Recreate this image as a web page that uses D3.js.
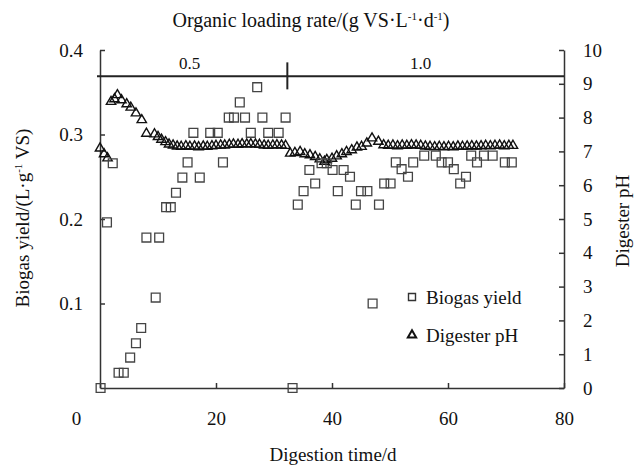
<!DOCTYPE html>
<html>
<head>
<meta charset="utf-8">
<script src="https://cdn.jsdelivr.net/npm/d3@7"></script>
<style>
  body { margin: 0; background: #fff; }
  svg text { font-family: "Liberation Serif", "Times New Roman", serif; fill: #111; }
</style>
</head>
<body>
<div id="chart"></div>
<script>
// biogas yield, L/g VS
const yieldDays = [0.1, 1.2, 2.2, 3.2, 4.1, 5.2, 6.2, 7.1, 8.0, 9.6, 10.2, 11.4, 12.2, 13.1, 14.2, 15.1, 16.1, 17.2,
  19.0, 20.3, 21.2, 22.2, 23.1, 24.1, 25.0, 26.0, 27.1, 28.0, 29.0, 30.8, 32.0, 33.2, 34.1, 35.1, 36.1, 37.1,
  38.2, 39.1, 40.1, 41.0, 42.0, 43.1, 44.1, 45.0, 46.1, 47.0, 48.1, 49.0, 50.1, 51.0, 52.0, 53.1, 54.0, 55.9,
  57.9, 58.9, 60.0, 61.0, 62.1, 63.1, 64.0, 65.0, 66.2, 67.7, 69.8, 71.0];
const yieldValues = [0, 0.196, 0.266, 0.018, 0.018, 0.036, 0.053, 0.071, 0.178, 0.107, 0.178, 0.214, 0.214, 0.231, 0.249, 0.267, 0.302, 0.249,
  0.302, 0.302, 0.267, 0.32, 0.32, 0.338, 0.32, 0.302, 0.356, 0.32, 0.302, 0.302, 0.32, 0, 0.217, 0.233, 0.258, 0.242,
  0.266, 0.266, 0.258, 0.233, 0.258, 0.25, 0.217, 0.233, 0.233, 0.1, 0.217, 0.242, 0.242, 0.267, 0.259, 0.25, 0.267, 0.275,
  0.275, 0.267, 0.267, 0.259, 0.242, 0.25, 0.275, 0.267, 0.275, 0.275, 0.267, 0.267];

// digester pH
const phDays = [0.0, 0.7, 1.3, 1.9, 2.5, 3.0, 3.7, 4.6, 5.3, 6.2, 7.2, 8.0, 9.4, 10.0, 10.6, 11.3, 11.9, 12.6,
  13.3, 14.0, 14.8, 15.5, 16.3, 17.0, 17.8, 18.5, 19.3, 20.0, 20.8, 21.5, 22.3, 23.0, 23.8, 24.5, 25.3, 26.0,
  26.8, 27.5, 28.3, 29.0, 29.8, 30.5, 31.3, 32.0,
  32.8, 33.6, 34.5, 35.3, 36.2, 37.1, 37.9, 38.7, 39.1, 40.0, 40.8, 41.7, 42.5, 43.4, 44.3, 45.1, 46.0, 46.9, 48.0, 48.9,
  49.7, 50.5, 51.3, 52.1, 52.9, 53.7, 54.5, 55.3, 56.1, 56.9, 57.7, 58.5, 59.3, 60.1, 60.9, 61.7, 62.5, 63.3,
  64.1, 64.9, 65.7, 66.5, 67.3, 68.1, 68.9, 69.7, 70.5, 71.2];
const phValues = [7.09, 6.92, 6.80, 8.47, 8.55, 8.67, 8.52, 8.40, 8.30, 8.13, 7.93, 7.53, 7.51, 7.43, 7.35, 7.28, 7.21, 7.18,
  7.15, 7.14, 7.16, 7.14, 7.15, 7.13, 7.15, 7.14, 7.16, 7.17, 7.18, 7.18, 7.20, 7.21, 7.20, 7.22, 7.21, 7.22,
  7.21, 7.20, 7.18, 7.17, 7.18, 7.19, 7.18, 7.17,
  6.94, 6.96, 6.99, 6.92, 6.89, 6.84, 6.77, 6.70, 6.75, 6.79, 6.86, 6.92, 6.99, 7.04, 7.12, 7.14, 7.24, 7.39, 7.29, 7.19,
  7.17, 7.18, 7.16, 7.18, 7.17, 7.19, 7.18, 7.17, 7.15, 7.14, 7.13, 7.14, 7.13, 7.14, 7.13, 7.15, 7.14, 7.15,
  7.16, 7.15, 7.16, 7.17, 7.16, 7.17, 7.18, 7.16, 7.17, 7.17];

// loading rate phases on the top strip
const phaseLabels = ["0.5", "1.0"];
const phaseStart = [0, 32.3];
const phaseEnd = [32.3, 80];

const xTicks = [0, 20, 40, 60, 80];
const yLeftTicks = [0.1, 0.2, 0.3, 0.4];
const yRightTicks = [0, 1, 2, 3, 4, 5, 6, 7, 8, 9, 10];
const stripPh = 9.22; // level of the horizontal strip line, right-axis units

const W = 642, H = 468;
const margin = { top: 50, right: 78, bottom: 80, left: 100 };

const svg = d3.select("#chart").append("svg")
    .attr("width", W)
    .attr("height", H);

const x = d3.scaleLinear().domain([0, 80]).range([margin.left, W - margin.right]);
const yL = d3.scaleLinear().domain([0, 0.4]).range([H - margin.bottom, margin.top]);
const yR = d3.scaleLinear().domain([0, 10]).range([H - margin.bottom, margin.top]);

const axisColor = "#333";
const fs = 19;

function styleAxis(g) {
    g.selectAll("path, line").attr("stroke", axisColor).attr("stroke-width", 1.5);
    g.selectAll("text").attr("font-size", fs).attr("fill", "#111");
}

// x axis, ticks pointing inward
const gx = svg.append("g")
    .attr("transform", "translate(0," + yL(0) + ")")
    .call(d3.axisBottom(x).tickValues(xTicks).tickSize(-5).tickSizeOuter(0).tickPadding(24))
    .call(styleAxis);
// the 0 label sits left of the corner
gx.selectAll(".tick text").filter(d => d === 0).attr("dx", -24);

// left axis
svg.append("g")
    .attr("transform", "translate(" + x(0) + ",0)")
    .call(d3.axisLeft(yL).tickValues(yLeftTicks).tickFormat(d3.format(".1f")).tickSize(-5).tickSizeOuter(0).tickPadding(17))
    .call(styleAxis);

// right axis
svg.append("g")
    .attr("transform", "translate(" + x(80) + ",0)")
    .call(d3.axisRight(yR).tickValues(yRightTicks).tickSize(-5).tickSizeOuter(0).tickPadding(19))
    .call(styleAxis);

// top strip with loading rate
svg.append("line")
    .attr("x1", x(0) - 3).attr("x2", x(80))
    .attr("y1", yR(stripPh)).attr("y2", yR(stripPh))
    .attr("stroke", "#222").attr("stroke-width", 2);

svg.append("line")
    .attr("x1", x(phaseEnd[0])).attr("x2", x(phaseEnd[0]))
    .attr("y1", yR(stripPh) - 14).attr("y2", yR(stripPh) + 13)
    .attr("stroke", "#222").attr("stroke-width", 2);

svg.selectAll(".phase")
    .data(phaseLabels)
    .enter()
    .append("text")
    .attr("class", "phase")
    .attr("x", (d, i) => (x(phaseStart[i]) + x(phaseEnd[i])) / 2 + (i === 0 ? -4 : -5))
    .attr("y", yR(stripPh) - 7)
    .attr("text-anchor", "middle")
    .attr("font-size", 17)
    .text(d => d);

// markers
const sq = d3.symbol().type(d3.symbolSquare).size(78);
const tri = d3.symbol().type(d3.symbolTriangle).size(38);

const yieldData = yieldDays.map((d, i) => ({ day: d, v: yieldValues[i] }));
const phData = phDays.map((d, i) => ({ day: d, v: phValues[i] }));

svg.selectAll(".ph")
    .data(phData)
    .enter()
    .append("path")
    .attr("class", "ph")
    .attr("d", tri)
    .attr("transform", d => "translate(" + x(d.day) + "," + yR(d.v) + ")")
    .attr("fill", "none")
    .attr("stroke", "#111")
    .attr("stroke-width", 1.4);

svg.selectAll(".yield")
    .data(yieldData)
    .enter()
    .append("path")
    .attr("class", "yield")
    .attr("d", sq)
    .attr("transform", d => "translate(" + x(d.day) + "," + yL(d.v) + ")")
    .attr("fill", "none")
    .attr("stroke", "#444")
    .attr("stroke-width", 1.3);

// legend
const legend = svg.append("g");
legend.append("path")
    .attr("d", d3.symbol().type(d3.symbolSquare).size(49))
    .attr("transform", "translate(412,297)")
    .attr("fill", "none").attr("stroke", "#333").attr("stroke-width", 1.4);
legend.append("text")
    .attr("x", 426).attr("y", 297).attr("dy", "0.35em")
    .attr("font-size", fs)
    .text("Biogas yield");
legend.append("path")
    .attr("d", d3.symbol().type(d3.symbolTriangle).size(30))
    .attr("transform", "translate(412,335)")
    .attr("fill", "none").attr("stroke", "#111").attr("stroke-width", 2);
legend.append("text")
    .attr("x", 426).attr("y", 335).attr("dy", "0.35em")
    .attr("font-size", fs)
    .text("Digester pH");

// titles
const topTitle = svg.append("text")
    .attr("x", 311).attr("y", 27)
    .attr("text-anchor", "middle")
    .attr("font-size", 20);
topTitle.append("tspan").text("Organic loading rate/(g VS·L");
topTitle.append("tspan").attr("dy", -7).attr("font-size", 11).text("-1");
topTitle.append("tspan").attr("dy", 7).text("·d");
topTitle.append("tspan").attr("dy", -7).attr("font-size", 11).text("-1");
topTitle.append("tspan").attr("dy", 7).text(")");

svg.append("text")
    .attr("x", 333).attr("y", 461)
    .attr("text-anchor", "middle")
    .attr("font-size", fs)
    .text("Digestion time/d");

const leftTitle = svg.append("text")
    .attr("transform", "translate(29,218) rotate(-90)")
    .attr("text-anchor", "middle")
    .attr("font-size", fs);
leftTitle.append("tspan").text("Biogas yield/(L·g");
leftTitle.append("tspan").attr("dy", -7).attr("font-size", 11).text("-1");
leftTitle.append("tspan").attr("dy", 7).text(" VS)");

svg.append("text")
    .attr("transform", "translate(629,221) rotate(-90)")
    .attr("text-anchor", "middle")
    .attr("font-size", fs)
    .text("Digester pH");
</script>
</body>
</html>
